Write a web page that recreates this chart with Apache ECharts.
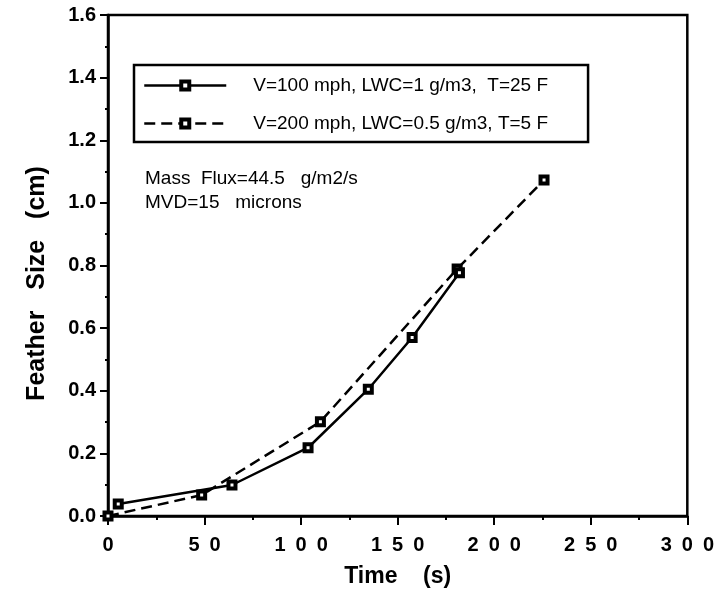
<!DOCTYPE html>
<html>
<head>
<meta charset="utf-8">
<script src="https://cdn.jsdelivr.net/npm/echarts@6/dist/echarts.min.js"></script>
<style>
  html, body { margin: 0; padding: 0; background: #fff; }
  #chart { width: 717px; height: 597px; }
</style>
</head>
<body>
<div id="chart"></div>
<script>
// values
var seriesNames = ['V=100 mph, LWC=1 g/m3,  T=25 F', 'V=200 mph, LWC=0.5 g/m3, T=5 F'];
var time100 = [5.3, 64.2, 103.6, 134.8, 157.5, 182];
var size100 = [0.038, 0.099, 0.218, 0.405, 0.57, 0.777];
var time200 = [0, 48.5, 110, 180.8, 225.8];
var size200 = [0, 0.067, 0.301, 0.789, 1.073];
var noteLines = ['Mass  Flux=44.5   g/m2/s', 'MVD=15   microns'];

function pairs(xs, ys) {
    var out = [];
    for (var i = 0; i < xs.length; i++) out.push([xs[i], ys[i]]);
    return out;
}

var font = '"Liberation Sans", Arial, sans-serif';
var markerStyle = { color: '#fff', borderColor: '#000', borderWidth: 4 };

var myChart = echarts.init(document.getElementById('chart'));

myChart.setOption({
    animation: false,
    backgroundColor: '#fff',
    grid: {
        left: 108,
        right: 26,
        top: 15,
        bottom: 81,
        show: true,
        borderColor: '#000',
        borderWidth: 2.5
    },
    legend: {
        orient: 'vertical',
        left: 134,
        top: 65,
        padding: [11, 40, 9, 9],
        itemGap: 19,
        itemWidth: 82,
        itemHeight: 10,
        borderColor: '#000',
        borderWidth: 2.5,
        backgroundColor: '#fff',
        data: seriesNames,
        itemStyle: { color: '#fff', borderColor: '#000', borderWidth: 4 },
        lineStyle: { color: '#000', width: 2.5 },
        textStyle: {
            color: '#000',
            fontSize: 19,
            fontFamily: font,
            padding: [0, 0, 0, 22]
        }
    },
    xAxis: {
        type: 'value',
        min: 0,
        max: 300,
        interval: 50,
        name: 'Time    (s)',
        nameLocation: 'middle',
        nameGap: 49,
        nameTextStyle: { color: '#000', fontSize: 23, fontWeight: 'bold', fontFamily: font },
        axisLine: { lineStyle: { color: '#000', width: 2.5 } },
        axisTick: { inside: false, length: 9, lineStyle: { color: '#000', width: 2 } },
        minorTick: { show: true, splitNumber: 2, length: 4, lineStyle: { color: '#000', width: 2 } },
        splitLine: { show: false },
        axisLabel: {
            margin: 19,
            color: '#000',
            fontSize: 20,
            fontWeight: 'bold',
            fontFamily: font,
            formatter: function (v) { return String(v).split('').join('\u2002'); }
        }
    },
    yAxis: {
        type: 'value',
        min: 0,
        max: 1.6,
        interval: 0.2,
        name: 'Feather   Size   (cm)',
        nameLocation: 'middle',
        nameGap: 58,
        nameTextStyle: {
            color: '#000', fontSize: 25, fontWeight: 'bold', fontFamily: font,
            padding: [0, 36, 0, 0]
        },
        axisLine: { lineStyle: { color: '#000', width: 2.5 } },
        axisTick: { inside: false, length: 8, lineStyle: { color: '#000', width: 2 } },
        minorTick: { show: true, splitNumber: 2, length: 3, lineStyle: { color: '#000', width: 2 } },
        splitLine: { show: false },
        axisLabel: {
            margin: 12,
            color: '#000',
            fontSize: 20,
            fontWeight: 'bold',
            fontFamily: font,
            formatter: function (v) { return v.toFixed(1); }
        }
    },
    graphic: [{
        type: 'text',
        left: 145,
        top: 167,
        style: {
            text: noteLines.join('\n'),
            fill: '#000',
            font: '19px "Liberation Sans", Arial, sans-serif',
            lineHeight: 24
        }
    }],
    series: [{
        name: seriesNames[0],
        type: 'line',
        data: pairs(time100, size100),
        symbol: 'rect',
        symbolSize: 7,
        itemStyle: markerStyle,
        lineStyle: { color: '#000', width: 2.5, type: 'solid' },
        z: 3
    }, {
        name: seriesNames[1],
        type: 'line',
        data: pairs(time200, size200),
        symbol: 'rect',
        symbolSize: 7,
        itemStyle: markerStyle,
        lineStyle: { color: '#000', width: 2.5, type: [11, 6] },
        z: 2
    }]
});
</script>
</body>
</html>
